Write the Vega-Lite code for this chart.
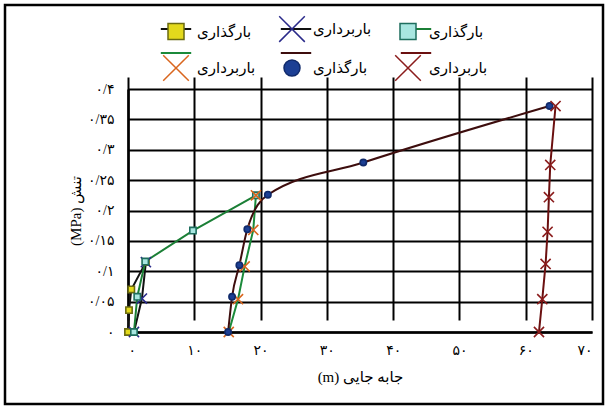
{
  "$schema": "https://vega.github.io/schema/vega-lite/v6.json",
  "width": 598,
  "height": 399,
  "autosize": "none",
  "padding": {"left": 5, "top": 5, "right": 5, "bottom": 3},
  "background": "white",
  "config": {
    "view": {"stroke": "black", "strokeWidth": 2.5},
    "font": "Liberation Serif, DejaVu Sans",
    "axis": {
      "grid": true,
      "gridColor": "black",
      "gridWidth": 2,
      "gridOpacity": 1,
      "domain": true,
      "domainColor": "black",
      "domainWidth": 2.5,
      "ticks": false,
      "labelColor": "black",
      "labelFontSize": 14,
      "titleColor": "black",
      "titleFontSize": 15,
      "titleFontWeight": "normal"
    }
  },
  "data": {
    "values": [
      {"s": "load1", "x": 0, "y": 0},
      {"s": "load1", "x": 0.15, "y": 0.036},
      {"s": "load1", "x": 0.5, "y": 0.07},
      {"s": "load1", "x": 2.7, "y": 0.115},
      {"s": "unload1", "x": 2.7, "y": 0.115},
      {"s": "unload1", "x": 2.1, "y": 0.055},
      {"s": "unload1", "x": 0.9, "y": 0},
      {"s": "load2", "x": 0.9, "y": 0},
      {"s": "load2", "x": 1.4, "y": 0.058},
      {"s": "load2", "x": 2.6, "y": 0.116},
      {"s": "load2", "x": 9.8, "y": 0.167},
      {"s": "load2", "x": 19.3, "y": 0.225},
      {"s": "unload2", "x": 19.3, "y": 0.225},
      {"s": "unload2", "x": 18.9, "y": 0.168},
      {"s": "unload2", "x": 17.6, "y": 0.108},
      {"s": "unload2", "x": 16.6, "y": 0.054},
      {"s": "unload2", "x": 15.2, "y": 0},
      {"s": "load3", "x": 15.1, "y": 0},
      {"s": "load3", "x": 15.7, "y": 0.058},
      {"s": "load3", "x": 16.8, "y": 0.11},
      {"s": "load3", "x": 18.0, "y": 0.169},
      {"s": "load3", "x": 21.1, "y": 0.226},
      {"s": "load3", "x": 35.5, "y": 0.279},
      {"s": "load3", "x": 63.6, "y": 0.372},
      {"s": "unload3", "x": 64.5, "y": 0.372},
      {"s": "unload3", "x": 63.7, "y": 0.275},
      {"s": "unload3", "x": 63.5, "y": 0.222},
      {"s": "unload3", "x": 63.3, "y": 0.165},
      {"s": "unload3", "x": 63.0, "y": 0.112},
      {"s": "unload3", "x": 62.5, "y": 0.054},
      {"s": "unload3", "x": 62.0, "y": 0}
    ]
  },
  "encoding": {
    "x": {
      "field": "x",
      "type": "quantitative",
      "scale": {"domain": [0, 70], "range": [123, 587], "nice": false, "zero": false},
      "axis": {
        "orient": "bottom",
        "offset": -72,
        "values": [0, 10, 20, 30, 40, 50, 60, 70],
        "labelPadding": 11,
        "labelExpr": "replace(replace(replace(replace(replace(replace(replace(replace(format(datum.value, '~d'), regexp('0', 'g'), '۰'), regexp('1', 'g'), '۱'), regexp('2', 'g'), '۲'), regexp('3', 'g'), '۳'), regexp('4', 'g'), '۴'), regexp('5', 'g'), '۵'), regexp('6', 'g'), '۶'), regexp('7', 'g'), '۷')",
        "title": "(m) جابه جایی",
        "titlePadding": 12
      }
    },
    "y": {
      "field": "y",
      "type": "quantitative",
      "scale": {"domain": [0, 0.4], "range": [327, 84], "nice": false},
      "axis": {
        "orient": "left",
        "offset": -123,
        "values": [0, 0.05, 0.1, 0.15, 0.2, 0.25, 0.3, 0.35, 0.4],
        "labelPadding": 14,
        "labelExpr": "replace(replace(replace(replace(replace(replace(replace(format(datum.value, '.2~f'), '.', '/'), regexp('0', 'g'), '۰'), regexp('1', 'g'), '۱'), regexp('2', 'g'), '۲'), regexp('3', 'g'), '۳'), regexp('4', 'g'), '۴'), regexp('5', 'g'), '۵')",
        "title": "(MPa) تنش",
        "titlePadding": 4
      }
    }
  },
  "layer": [
    {
      "transform": [{"filter": "datum.s != 'load3'"}],
      "mark": {"type": "line", "strokeWidth": 2},
      "encoding": {
        "order": {"field": "y", "type": "quantitative"},
        "color": {
          "field": "s",
          "type": "nominal",
          "scale": {
            "domain": ["load1", "unload1", "load2", "unload2", "load3", "unload3"],
            "range": ["#111111", "#111111", "#1b7f36", "#1b8a3a", "#3d0d0d", "#6b1010"]
          },
          "legend": {
            "orient": "none",
            "legendX": 162,
            "legendY": 15,
            "direction": "horizontal",
            "columns": 3,
            "columnPadding": 20,
            "rowPadding": 7,
            "padding": 0,
            "title": null,
            "symbolSize": 256,
            "labelOffset": 12,
            "labelFontSize": 15,
            "labelOpacity": 0,
            "labelExpr": "slice(datum.value, 0, 4) == 'load' ? 'بارگذاری' : 'باربرداری'",
            "encode": {
              "symbols": {
                "update": {
                  "shape": {"value": "M-1.9,0H1.9"},
                  "fill": {"value": "transparent"},
                  "strokeWidth": {"value": 2},
                  "opacity": {"value": 1}
                }
              }
            }
          }
        }
      }
    },
    {
      "transform": [{"filter": "datum.s == 'load3'"}],
      "mark": {"type": "line", "strokeWidth": 2, "interpolate": "monotone"},
      "encoding": {
        "order": {"field": "y", "type": "quantitative"},
        "color": {
          "field": "s",
          "type": "nominal",
          "scale": {
            "domain": ["load1", "unload1", "load2", "unload2", "load3", "unload3"],
            "range": ["#111111", "#111111", "#1b7f36", "#1b8a3a", "#3d0d0d", "#6b1010"]
          },
          "legend": {
            "orient": "none",
            "legendX": 162,
            "legendY": 15,
            "direction": "horizontal",
            "columns": 3,
            "columnPadding": 20,
            "rowPadding": 7,
            "padding": 0,
            "title": null,
            "symbolSize": 256,
            "labelOffset": 12,
            "labelFontSize": 15,
            "labelOpacity": 0,
            "labelExpr": "slice(datum.value, 0, 4) == 'load' ? 'بارگذاری' : 'باربرداری'",
            "encode": {
              "symbols": {
                "update": {
                  "shape": {"value": "M-1.9,0H1.9"},
                  "fill": {"value": "transparent"},
                  "strokeWidth": {"value": 2},
                  "opacity": {"value": 1}
                }
              }
            }
          }
        }
      }
    },
    {
      "mark": {"type": "point", "opacity": 1, "filled": false, "strokeWidth": 1.6, "size": 40},
      "encoding": {
        "shape": {
          "field": "s",
          "type": "nominal",
          "scale": {
            "domain": ["unload3", "load3", "unload2", "load2", "unload1", "load1"],
            "range": ["M-1.6,-1.6L1.6,1.6M-1.6,1.6L1.6,-1.6", "circle", "M-1.6,-1.6L1.6,1.6M-1.6,1.6L1.6,-1.6", "square", "M-1.6,-1.6L1.6,1.6M-1.6,1.6L1.6,-1.6", "square"]
          },
          "legend": {
            "orient": "none",
            "legendX": 162,
            "legendY": 15,
            "direction": "horizontal",
            "columns": 3,
            "columnPadding": 20,
            "rowPadding": 7,
            "padding": 0,
            "title": null,
            "symbolSize": 256,
            "labelOffset": 12,
            "labelFontSize": 15,
            "labelColor": "black",
            "values": ["load1", "unload1", "load2", "unload2", "load3", "unload3"],
            "labelExpr": "slice(datum.value, 0, 4) == 'load' ? 'بارگذاری' : 'باربرداری'",
            "encode": {
              "symbols": {
                "update": {
                  "fill": {"scale": "fill", "field": "value"},
                  "stroke": {"scale": "stroke", "field": "value"},
                  "size": {"value": 40},
                  "strokeWidth": {"value": 1.6},
                  "opacity": {"value": 1}
                }
              }
            }
          }
        },
        "fill": {
          "field": "s",
          "type": "nominal",
          "scale": {
            "domain": ["unload3", "load3", "unload2", "load2", "unload1", "load1"],
            "range": ["transparent", "#1c3f94", "transparent", "#a8e6e0", "transparent", "#e3d91c"]
          },
          "legend": null
        },
        "stroke": {
          "field": "s",
          "type": "nominal",
          "scale": {
            "domain": ["unload3", "load3", "unload2", "load2", "unload1", "load1"],
            "range": ["#8b1c1c", "#102a6b", "#d9661e", "#1e6e5e", "#2a2a8a", "#6b6b10"]
          },
          "legend": null
        }
      }
    }
  ]
}
